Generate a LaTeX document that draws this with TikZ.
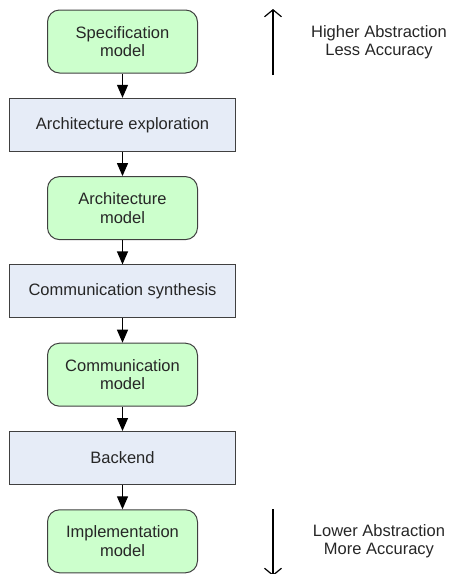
\documentclass[tikz,border=0pt]{standalone}
\usepackage{fontspec}
\setmainfont{Liberation Sans}
\usepackage{xcolor}
\usetikzlibrary{arrows.meta,positioning}
\definecolor{mgreen}{HTML}{CCFFCC}
\definecolor{mblue}{HTML}{E6ECF7}
\definecolor{mline}{HTML}{404040}
\begin{document}
\begin{tikzpicture}[x=1pt,y=1pt,font=\fontsize{16.5}{18.5}\selectfont,
    node distance=24.3pt]
  \useasboundingbox (0,0) rectangle (448,-574);
  \tikzset{
    model/.style={draw=mline,line width=1pt,fill=mgreen,rounded corners=12pt,
      minimum width=150pt,minimum height=63pt,align=center,text=black!85,inner sep=0pt},
    refine/.style={draw=mline,line width=1pt,fill=mblue,
      minimum width=226pt,minimum height=53pt,text=black!85,inner sep=0pt},
    flow/.style={-{Triangle[length=13pt,width=11pt]},line width=1.2pt}
  }
  \node[model] (spec) at (122.5,-41.5) {Specification\\model};
  \node[refine,below=of spec] (archx) {Architecture exploration};
  \node[model,below=of archx] (arch) {Architecture\\model};
  \node[refine,below=of arch] (comsyn) {Communication synthesis};
  \node[model,below=of comsyn] (com) {Communication\\model};
  \node[refine,below=of com] (back) {Backend};
  \node[model,below=of back] (impl) {Implementation\\model};

  \draw[flow] (spec) -- (archx);
  \draw[flow] (archx) -- (arch);
  \draw[flow] (arch) -- (comsyn);
  \draw[flow] (comsyn) -- (com);
  \draw[flow] (com) -- (back);
  \draw[flow] (back) -- (impl);

  % abstraction levels
  \node[align=center,text=black!85] (hi) at (379,-42) {Higher Abstraction\\Less Accuracy};
  \node[align=center,text=black!85] (lo) at (379,-541) {Lower Abstraction\\More Accuracy};
  \coordinate (upbot) at (273,-75);
  \coordinate (uptop) at (273,-9);
  \coordinate (dntop) at (273,-509);
  \coordinate (dnbot) at (273,-576);
  \draw[-{Straight Barb[length=7pt,width=17pt]},line width=1.2pt] (upbot) -- (uptop);
  \draw[-{Straight Barb[length=7pt,width=17pt]},line width=1.2pt] (dntop) -- (dnbot);
\end{tikzpicture}
\end{document}
